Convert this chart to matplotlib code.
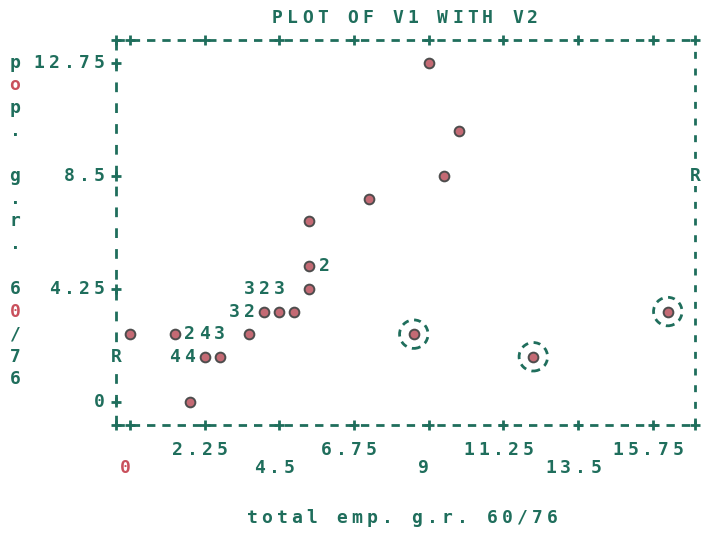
import matplotlib
matplotlib.use("Agg")
import matplotlib.pyplot as plt

plt.rcParams['lines.scale_dashes'] = False

# Cases printed as a single symbol: V2 (total emp. g.r.) on x, V1 (pop. g.r.) on y
pt_x = [9.0, 9.9, 9.45, 7.2, 5.4, 5.4, 5.4, 4.05, 4.5, 4.95, 0.0, 1.35, 3.6, 2.25, 2.7, 1.8]
pt_y = [12.75, 10.2, 8.5, 7.65, 6.8, 5.1, 4.25, 3.4, 3.4, 3.4, 2.55, 2.55, 2.55, 1.7, 1.7, 0.0]

# Cells holding several cases, printed as the count
cnt_x = [5.85, 3.6, 4.05, 4.5, 3.15, 3.6, 1.8, 2.25, 2.7, 1.35, 1.8]
cnt_y = [5.1, 4.25, 4.25, 4.25, 3.4, 3.4, 2.55, 2.55, 2.55, 1.7, 1.7]
cnt_n = [2, 3, 2, 3, 3, 2, 2, 4, 3, 4, 4]

# Flagged cases (ringed)
out_x = [16.2, 8.55, 12.15]
out_y = [3.4, 2.55, 1.7]

x_ticks = [0, 2.25, 4.5, 6.75, 9, 11.25, 13.5, 15.75]
x_tick_labels = ['0', '2.25', '4.5', '6.75', '9', '11.25', '13.5', '15.75']
y_ticks = [0, 4.25, 8.5, 12.75]
y_tick_labels = ['0', '4.25', '8.5', '12.75']

# Regression line end markers on the left and right borders
r_left = 1.7
r_right = 8.5

title = 'PLOT OF V1 WITH V2'
x_title = 'total emp. g.r. 60/76'
y_title = 'pop. g.r. 60/76'

TEAL = '#1f6e5c'
PINK = '#c46a74'
RED = '#c9505c'
GREY = '#4d4d4d'
FONT = dict(family='DejaVu Sans Mono', weight='bold', fontsize=13)
PITCH = 15  # printer column width in pixels
ROW = 0.85  # printer row height in y units

fig = plt.figure(figsize=(7.05, 5.34), dpi=100)
fig.patch.set_facecolor('white')
ax = fig.add_axes([116 / 705, 1 - 425 / 534, 579 / 705, 385 / 534])
x0, x1 = -0.42, 17.02
y0, y1 = -0.865, 13.61
ax.set_xlim(x0, x1)
ax.set_ylim(y0, y1)
ax.axis('off')


def spaced(s, xy, xycoords, dx=0, dy=0, align='center', colors=None):
    """Write a string one character per printer column."""
    n = len(s)
    for i, c in enumerate(s):
        if c == ' ':
            continue
        if align == 'center':
            off = dx + (i - (n - 1) / 2) * PITCH
        else:  # right: last character centred at dx
            off = dx - (n - 1 - i) * PITCH
        col = colors.get(c, TEAL) if colors else TEAL
        ax.annotate(c, xy=xy, xycoords=xycoords, xytext=(off, dy),
                    textcoords='offset pixels', ha='center', va='center',
                    color=col, annotation_clip=False, **FONT)


# Dashed printer frame
frame = dict(color=TEAL, lw=2.0, clip_on=False, solid_capstyle='butt')
ax.plot([x0, x1], [y1, y1], dashes=(6, 5), **frame)
ax.plot([x0, x1], [y0, y0], dashes=(6, 5), **frame)
ax.plot([x0, x0], [y0, y1], dashes=(7, 8), **frame)
ax.plot([x1, x1], [y0, y1], dashes=(5, 7), **frame)

plus = dict(marker='+', ms=7, mew=2, color=TEAL, ls='none', clip_on=False)
ax.plot(x_ticks + [x0, x1], [y0] * (len(x_ticks) + 2), **plus)
ax.plot(x_ticks + [x0, x1], [y1] * (len(x_ticks) + 2), **plus)
ax.plot([x0] * len(y_ticks), y_ticks, **plus)

# Regression markers on the borders
for xv, yv in [(x0, r_left), (x1, r_right)]:
    ax.text(xv, yv, 'R', ha='center', va='center', color=TEAL, clip_on=False,
            bbox=dict(facecolor='white', edgecolor='none', pad=1), **FONT)

# Tick labels
for i, (t, lab) in enumerate(zip(x_ticks, x_tick_labels)):
    dy = -25 if i % 2 else -43
    spaced(lab, (t, y0), 'data', dx=-5, dy=dy, colors={'0': RED} if lab == '0' else None)
for t, lab in zip(y_ticks, y_tick_labels):
    spaced(lab, (x0, t), 'data', dx=-17, align='right')

# Data symbols
ax.plot(pt_x + out_x, pt_y + out_y, 'o', ms=7, mfc=PINK, mec=GREY, mew=1.4,
        ls='none', clip_on=False)
for xv, yv, n in zip(cnt_x, cnt_y, cnt_n):
    ax.text(xv, yv, str(n), ha='center', va='center', color=TEAL, **FONT)
ax.scatter(out_x, out_y, s=420, facecolors='none', edgecolors=TEAL,
           linewidths=2, linestyles=(0, (5, 4)))

# Titles
spaced(title, (405, 534 - 18), 'figure pixels')
spaced(x_title, (402, 534 - 518), 'figure pixels')
for k, c in enumerate(y_title):
    if c == ' ':
        continue
    ax.annotate(c, xy=(15, 12.75 - k * ROW), xycoords=('figure pixels', 'data'),
                ha='center', va='center', annotation_clip=False,
                color=RED if c in 'o0' else TEAL, **FONT)

fig.savefig('out.png', dpi=100, facecolor='white')
